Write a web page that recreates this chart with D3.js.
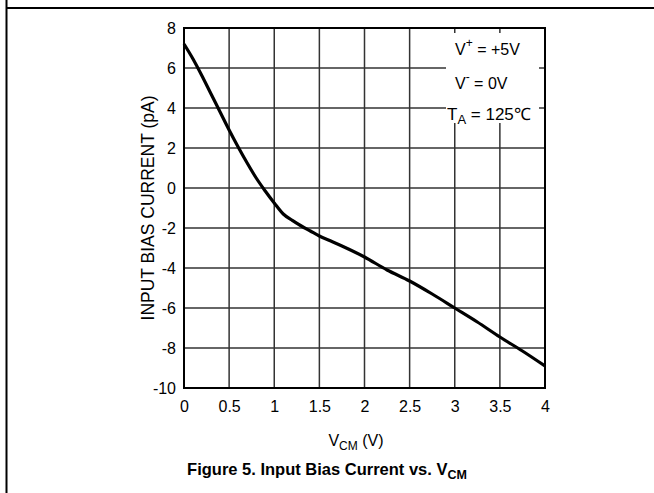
<!DOCTYPE html>
<html><head><meta charset="utf-8">
<script src="https://cdn.jsdelivr.net/npm/d3@7"></script>
<style>
html,body{margin:0;padding:0;background:#fff;}
svg{display:block;font-family:"Liberation Sans",Arial,sans-serif;}
</style></head>
<body>
<svg id="c" width="654" height="493"></svg>
<script>
const vcm   = [0, 0.1, 0.2, 0.3, 0.4, 0.5, 0.6, 0.7, 0.8, 0.9, 1.0, 1.1, 1.2, 1.3, 1.4, 1.5, 1.6, 1.75, 2.0, 2.25, 2.5, 2.75, 3.0, 3.25, 3.5, 3.75, 4.0];
const ibias = [7.2, 6.45, 5.6, 4.7, 3.8, 2.9, 2.05, 1.25, 0.5, -0.15, -0.75, -1.3, -1.62, -1.9, -2.15, -2.4, -2.6, -2.9, -3.45, -4.1, -4.65, -5.3, -6.0, -6.7, -7.45, -8.15, -8.9];
const xTicks = [0, 0.5, 1, 1.5, 2, 2.5, 3, 3.5, 4];
const xTickLabels = ["0", "0.5", "1", "1.5", "2", "2.5", "3", "3.5", "4"];
const yTicks = [8, 6, 4, 2, 0, -2, -4, -6, -8, -10];
const yTickLabels = ["8", "6", "4", "2", "0", "-2", "-4", "-6", "-8", "-10"];

const FONT = "Liberation Sans, Arial, sans-serif";
const svg = d3.select("#c");
const L = 184, R = 545, T = 28, B = 388;
const x = d3.scaleLinear().domain([0, 4]).range([L, R]);
const y = d3.scaleLinear().domain([-10, 8]).range([B, T]);

// outer page border lines
svg.append("line").attr("x1", 6.5).attr("x2", 6.5).attr("y1", 0).attr("y2", 493).attr("stroke", "#000").attr("stroke-width", 2);
svg.append("line").attr("x1", 6).attr("x2", 654).attr("y1", 8).attr("y2", 8).attr("stroke", "#000").attr("stroke-width", 2);

// grid
const g = svg.append("g");
g.selectAll(".vg").data(xTicks.slice(1, -1)).enter().append("line")
  .attr("x1", d => x(d)).attr("x2", d => x(d)).attr("y1", T).attr("y2", B)
  .attr("stroke", "#333").attr("stroke-width", 1.5);
g.selectAll(".hg").data(yTicks.slice(1, -1)).enter().append("line")
  .attr("x1", L).attr("x2", R).attr("y1", d => y(d)).attr("y2", d => y(d))
  .attr("stroke", "#333").attr("stroke-width", 1.5);

// legend background box
svg.append("rect").attr("x", 446).attr("y", 33).attr("width", 93).attr("height", 90).attr("fill", "#fff");

// frame
svg.append("rect").attr("x", L).attr("y", T).attr("width", R - L).attr("height", B - T)
  .attr("fill", "none").attr("stroke", "#000").attr("stroke-width", 2);

// axes tick labels via d3 axes
const xAxis = d3.axisBottom(x).tickValues(xTicks).tickFormat((d, i) => xTickLabels[i]).tickSize(0).tickPadding(13);
const xa = svg.append("g").attr("transform", `translate(0,${B})`).call(xAxis);
xa.attr("font-size", 16).attr("font-family", FONT);
xa.select(".domain").remove();
xa.selectAll("text").attr("fill", "#000");

const yAxis = d3.axisLeft(y).tickValues(yTicks).tickFormat((d, i) => yTickLabels[i]).tickSize(0).tickPadding(8);
const ya = svg.append("g").attr("transform", `translate(${L},0)`).call(yAxis);
ya.attr("font-size", 16).attr("font-family", FONT);
ya.select(".domain").remove();
ya.selectAll("text").attr("fill", "#000");

// curve
const line = d3.line().x((d, i) => x(vcm[i])).y((d, i) => y(ibias[i])).curve(d3.curveMonotoneX);
svg.append("path").datum(ibias).attr("d", line).attr("fill", "none")
  .attr("stroke", "#000").attr("stroke-width", 3.2).attr("stroke-linejoin", "round");

// legend text
const lg = svg.append("g").attr("font-size", 16).attr("fill", "#000");
const t1 = lg.append("text").attr("x", 455).attr("y", 55);
t1.append("tspan").text("V");
t1.append("tspan").attr("dy", -8).attr("font-size", 12).text("+");
t1.append("tspan").attr("dy", 8).text(" = +5V");
const t2 = lg.append("text").attr("x", 455).attr("y", 89);
t2.append("tspan").text("V");
t2.append("tspan").attr("dy", -8).attr("font-size", 12).text("-");
t2.append("tspan").attr("dy", 8).text(" = 0V");
const t3 = lg.append("text").attr("x", 447).attr("y", 120).attr("font-size", 17);
t3.append("tspan").text("T");
t3.append("tspan").attr("dy", 4).attr("font-size", 13).text("A");
t3.append("tspan").attr("dy", -4).text(" = 125\u2103");

// y axis title
svg.append("text").attr("transform", `translate(154,${(T + B) / 2}) rotate(-90)`)
  .attr("text-anchor", "middle").attr("font-size", 17.5).text("INPUT BIAS CURRENT (pA)");

// x axis title
const xt = svg.append("text").attr("x", 356).attr("y", 446).attr("text-anchor", "middle").attr("font-size", 16);
xt.append("tspan").text("V");
xt.append("tspan").attr("dy", 4).attr("font-size", 12).text("CM");
xt.append("tspan").attr("dy", -4).text(" (V)");

// caption
const cap = svg.append("text").attr("x", 327).attr("y", 475).attr("text-anchor", "middle")
  .attr("font-size", 16.5).attr("font-weight", "bold");
cap.append("tspan").text("Figure 5. Input Bias Current vs. V");
cap.append("tspan").attr("dy", 4).attr("font-size", 12.5).text("CM");
</script>
</body></html>
